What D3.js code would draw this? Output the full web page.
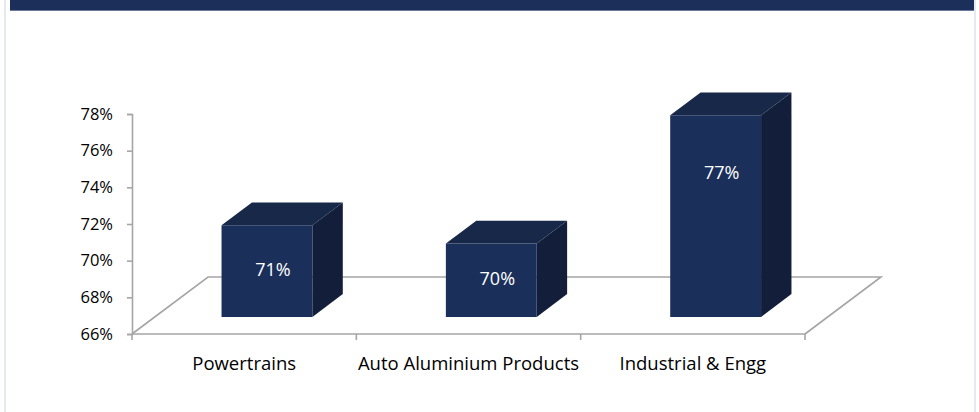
<!DOCTYPE html>
<html>
<head>
<meta charset="utf-8">
<script src="https://cdn.jsdelivr.net/npm/d3@7"></script>
<style>
  body { margin: 0; background: #fff; }
  svg { display: block; }
</style>
</head>
<body>
<div id="chart"></div>
<script>
var categories = ['Powertrains', 'Auto Aluminium Products', 'Industrial & Engg']
var values = [71, 70, 77]
var labelAt = [68.6, 68.1, 73.9]   // where Excel left the data labels, in % units
var yTicks = [66, 68, 70, 72, 74, 76, 78]

var W = 979, H = 412
var svg = d3.select('#chart').append('svg').attr('width', W).attr('height', H)

// card + clipped header band
svg.append('rect').attr('x', 5).attr('y', -2).attr('width', 970).attr('height', H + 4)
  .attr('fill', '#fff').attr('stroke', '#dde4ec').attr('stroke-width', 1.5)
svg.append('rect').attr('x', 10).attr('y', 0).attr('width', 964).attr('height', 10).attr('fill', '#1c2f5a')
svg.append('line').attr('x1', 10).attr('x2', 974).attr('y1', 10.5).attr('y2', 10.5)
  .attr('stroke', '#6b7a99').attr('stroke-width', 1)

var x = d3.scaleBand(categories, [132, 805])
var y = d3.scaleLinear([66, 78], [334, 114])

// oblique depth projection of the 3d floor
var depthX = 76, depthY = -57
var proj = (px, py, z) => [px + z * depthX, py + z * depthY]
var z0 = 0.3, z1 = 0.7
var barW = x.bandwidth() * 0.405
var axisFont = '"Open Sans", Calibri, sans-serif'

var floorY = y(66), xl = x.range()[0], xr = x.range()[1]
var floor = [proj(xl, floorY, 0), proj(xl, floorY, 1), proj(xr, floorY, 1), proj(xr, floorY, 0)]
svg.append('path')
  .attr('d', d3.line()(floor))
  .attr('fill', 'none').attr('stroke', '#a5a5a5').attr('stroke-width', 1.6)

// y axis
var yAxis = svg.append('g').attr('transform', `translate(${xl},0)`)
  .call(d3.axisLeft(y).tickValues(yTicks).tickFormat(d => d + '%').tickSize(5).tickPadding(14))
yAxis.select('.domain').attr('stroke', '#a5a5a5').attr('stroke-width', 1.6)
yAxis.selectAll('.tick line').attr('stroke', '#a5a5a5').attr('stroke-width', 1.6)
yAxis.selectAll('text').attr('fill', '#000').attr('font-size', 16.5)
  .attr('font-family', axisFont)

// x axis: baseline, boundary ticks, category labels
var xg = svg.append('g')
xg.append('line').attr('x1', xl).attr('x2', xr).attr('y1', floorY).attr('y2', floorY)
  .attr('stroke', '#a5a5a5').attr('stroke-width', 1.6)
xg.selectAll('line.tk').data(categories.map(d => x(d)).concat([xr])).join('line')
  .attr('class', 'tk')
  .attr('x1', d => d).attr('x2', d => d).attr('y1', floorY).attr('y2', floorY + 6)
  .attr('stroke', '#a5a5a5').attr('stroke-width', 1.6)
xg.selectAll('text').data(categories).join('text')
  .attr('x', d => x(d) + x.bandwidth() / 2).attr('y', 362)
  .attr('text-anchor', 'middle').attr('dominant-baseline', 'central')
  .attr('font-size', 18.5).attr('font-family', axisFont).attr('fill', '#000')
  .text(d => d)

// bars
var bars = svg.selectAll('g.bar').data(categories).join('g').attr('class', 'bar')
bars.each(function(c, i){
  var g = d3.select(this)
  var cx = x(c) + x.bandwidth() / 2
  var L = cx - barW / 2, R = cx + barW / 2
  var top = y(values[i]), bot = y(66)
  var fTL = proj(L, top, z0), fTR = proj(R, top, z0), fBR = proj(R, bot, z0), fBL = proj(L, bot, z0)
  var bTL = proj(L, top, z1), bTR = proj(R, top, z1), bBR = proj(R, bot, z1)
  g.append('path').attr('d', d3.line()([fTR, bTR, bBR, fBR]) + 'Z').attr('fill', '#131f3a')
  g.append('path').attr('d', d3.line()([fTL, bTL, bTR, fTR]) + 'Z').attr('fill', '#172849')
  g.append('path').attr('d', d3.line()([fTL, fTR, fBR, fBL]) + 'Z').attr('fill', '#1b2f5b')
  var lp = proj(cx, y(labelAt[i]), z0)
  g.append('text')
    .attr('x', lp[0] + 6).attr('y', lp[1])
    .attr('text-anchor', 'middle').attr('dominant-baseline', 'central')
    .attr('font-size', 18).attr('font-family', '"Open Sans", sans-serif').attr('fill', '#fff')
    .text(values[i] + '%')
})
</script>
</body>
</html>
